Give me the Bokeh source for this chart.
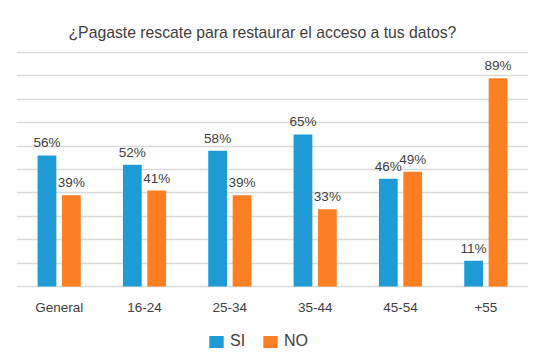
from bokeh.plotting import figure
from bokeh.models import (ColumnDataSource, FactorRange, Range1d, FixedTicker, Legend,
                          LegendItem, LabelSet, Label)
from bokeh.transform import dodge
from bokeh.core.properties import value
from bokeh.embed import file_html
from bokeh.resources import INLINE

categories = ["General", "16-24", "25-34", "35-44", "45-54", "+55"]
si_values = [56, 52, 58, 65, 46, 11]
no_values = [39, 41, 39, 33, 49, 89]
series_names = ["SI", "NO"]
title_text = "¿Pagaste rescate para restaurar el acceso a tus datos?"
grid_ticks = list(range(0, 101, 10))

BLUE = "#1e9bd7"
ORANGE = "#fd7f24"
TXT = "#404040"
GRID = "#d9d9d9"
FONT = "Liberation Sans"

W, H = 546, 358
BASE_PX = 286.0      # baseline (value 0), px from top
PX_PER = 2.34        # px per percentage point

src = ColumnDataSource(dict(
    cat=categories, si=si_values, no=no_values,
    si_lab=[f"{v}%" for v in si_values], no_lab=[f"{v}%" for v in no_values],
))

p = figure(x_range=FactorRange(factors=categories, range_padding=0),
           y_range=Range1d(-(H - BASE_PX) / PX_PER, BASE_PX / PX_PER),
           width=W, height=H, output_backend="svg", toolbar_location=None,
           min_border_left=16, min_border_right=18, min_border_top=0, min_border_bottom=0)

r1 = p.vbar(x=dodge("cat", -0.143, range=p.x_range), top="si", width=0.22, source=src,
            fill_color=BLUE, line_color=None)
r2 = p.vbar(x=dodge("cat", 0.143, range=p.x_range), top="no", width=0.22, source=src,
            fill_color=ORANGE, line_color=None)

for col, lab, off in (("si", "si_lab", -0.143), ("no", "no_lab", 0.143)):
    ls = LabelSet(x=dodge("cat", off, range=p.x_range), y=col, text=lab, source=src,
                  text_align="center", text_baseline="alphabetic", y_offset=8,
                  text_font=value(FONT), text_font_size=value("13.5px"), text_color=TXT)
    p.add_layout(ls)

# category labels under the baseline
p.text(x="cat", y=-(306.5 - BASE_PX) / PX_PER, text="cat", source=src,
       text_align="center", text_baseline="alphabetic",
       text_font=value(FONT), text_font_size=value("13.5px"), text_color=TXT)

# title
p.add_layout(Label(x=0, y=(BASE_PX - 31.5) / PX_PER, x_offset=52, text=title_text,
                   text_align="left", text_baseline="alphabetic",
                   text_font=FONT, text_font_size="15.75px", text_color=TXT))

p.xaxis.visible = False
p.yaxis.visible = False
p.ygrid.ticker = FixedTicker(ticks=grid_ticks)
p.ygrid.grid_line_color = GRID
p.ygrid.grid_line_width = 1.5
p.xgrid.grid_line_color = None
p.outline_line_color = None

legend = Legend(items=[LegendItem(label=series_names[0], renderers=[r1]),
                       LegendItem(label=series_names[1], renderers=[r2])],
                location=(191, 8), orientation="horizontal",
                padding=0, margin=0, spacing=11, glyph_width=18, glyph_height=15,
                label_height=15, label_standoff=5,
                label_text_font=FONT, label_text_font_size="16px", label_text_color=TXT,
                border_line_color=None, background_fill_alpha=0)
p.add_layout(legend, "center")

open("out.html", "w").write(file_html(p, INLINE))
